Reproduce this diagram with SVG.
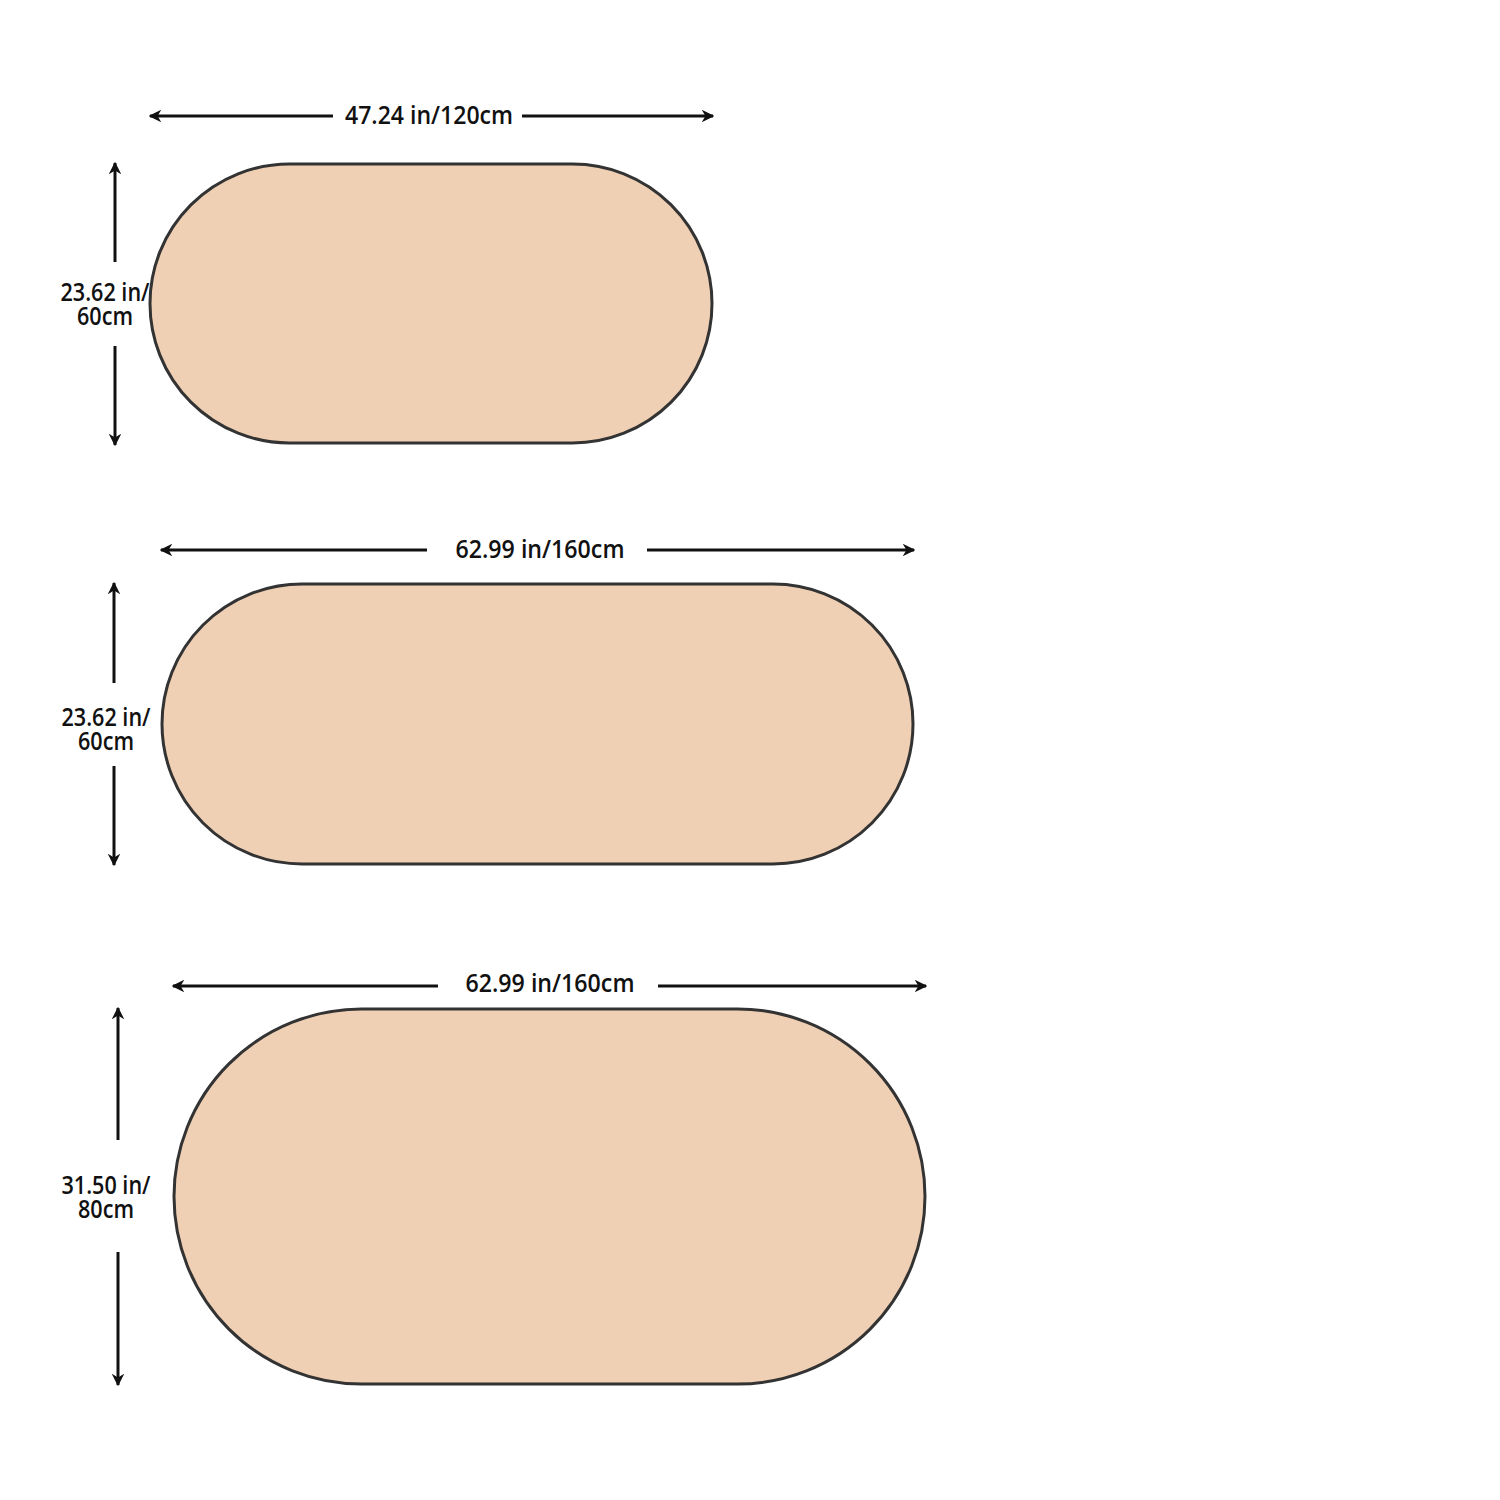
<svg xmlns="http://www.w3.org/2000/svg" width="1500" height="1500" viewBox="0 0 1500 1500">
<defs>
<marker id="ah" viewBox="0 0 10 10" refX="9" refY="5" markerWidth="4.2" markerHeight="4.2" orient="auto-start-reverse" markerUnits="strokeWidth">
<path d="M0,0 L10,5 L0,10 L3,5 Z" fill="#111"/>
</marker>
<style>
.rug{fill:#F0D0B4;stroke:#333;stroke-width:3}
.dim{stroke:#111;stroke-width:3;fill:none}
.lbl{font-family:"Open Sans","Liberation Sans",sans-serif;font-size:25px;font-weight:600;fill:#111;text-anchor:middle}
.vl{font-size:26px}
</style>
</defs>
<rect width="1500" height="1500" fill="#fff"/>
<g id="rug1"><rect class="rug" x="150" y="164" width="562" height="279" rx="139.5" ry="139.5"/></g>
<g id="rug2"><rect class="rug" x="162" y="584" width="751" height="280" rx="140" ry="140"/></g>
<g id="rug3"><rect class="rug" x="174" y="1009" width="751" height="375" rx="187.5" ry="187.5"/></g>
<g id="connectors">
<line class="dim" x1="333" y1="116" x2="150" y2="116" marker-end="url(#ah)"/>
<line class="dim" x1="522" y1="116" x2="713" y2="116" marker-end="url(#ah)"/>
<line class="dim" x1="115" y1="262" x2="115" y2="163" marker-end="url(#ah)"/>
<line class="dim" x1="115" y1="346" x2="115" y2="445" marker-end="url(#ah)"/>
<line class="dim" x1="427" y1="550" x2="161" y2="550" marker-end="url(#ah)"/>
<line class="dim" x1="647" y1="550" x2="914" y2="550" marker-end="url(#ah)"/>
<line class="dim" x1="114" y1="683" x2="114" y2="583" marker-end="url(#ah)"/>
<line class="dim" x1="114" y1="766" x2="114" y2="865" marker-end="url(#ah)"/>
<line class="dim" x1="438" y1="986" x2="173" y2="986" marker-end="url(#ah)"/>
<line class="dim" x1="658" y1="986" x2="926" y2="986" marker-end="url(#ah)"/>
<line class="dim" x1="118" y1="1140" x2="118" y2="1008" marker-end="url(#ah)"/>
<line class="dim" x1="118" y1="1252" x2="118" y2="1385" marker-end="url(#ah)"/>
</g>
<g id="labels">
<text class="lbl" x="429" y="124" textLength="168" lengthAdjust="spacingAndGlyphs">47.24 in/120cm</text>
<text class="lbl vl"><tspan x="105" y="301" textLength="89" lengthAdjust="spacingAndGlyphs">23.62 in/</tspan><tspan x="105" y="325" textLength="56" lengthAdjust="spacingAndGlyphs">60cm</tspan></text>
<text class="lbl" x="540" y="558" textLength="169" lengthAdjust="spacingAndGlyphs">62.99 in/160cm</text>
<text class="lbl vl"><tspan x="106" y="726" textLength="89" lengthAdjust="spacingAndGlyphs">23.62 in/</tspan><tspan x="106" y="750" textLength="56" lengthAdjust="spacingAndGlyphs">60cm</tspan></text>
<text class="lbl" x="550" y="992" textLength="169" lengthAdjust="spacingAndGlyphs">62.99 in/160cm</text>
<text class="lbl vl"><tspan x="106" y="1194" textLength="89" lengthAdjust="spacingAndGlyphs">31.50 in/</tspan><tspan x="106" y="1218" textLength="56" lengthAdjust="spacingAndGlyphs">80cm</tspan></text>
</g>
</svg>
